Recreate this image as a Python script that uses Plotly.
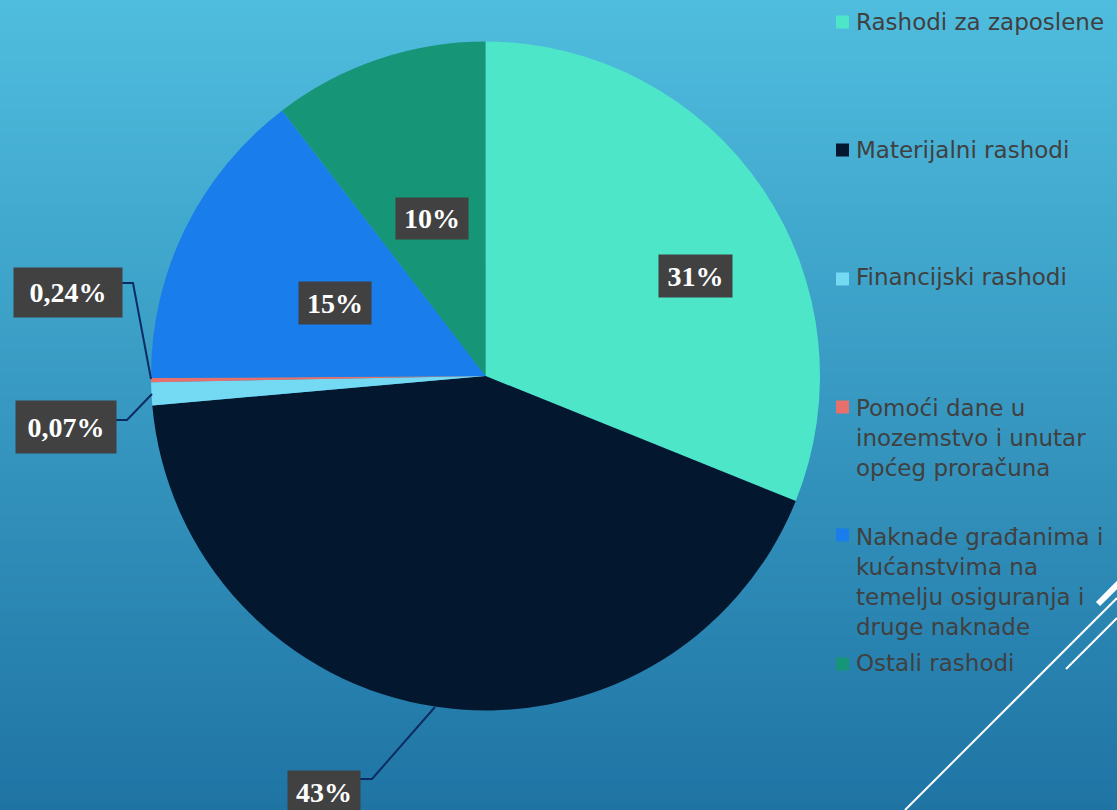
import plotly.graph_objects as go

# ---- data ----
categories = ["Rashodi za zaposlene", "Materijalni rashodi", "Financijski rashodi",
              "Pomoći dane u inozemstvo i unutar općeg proračuna",
              "Naknade građanima i kućanstvima na temelju osiguranja i druge naknade",
              "Ostali rashodi"]
legend_lines = [["Rashodi za zaposlene"], ["Materijalni rashodi"], ["Financijski rashodi"],
                ["Pomoći dane u", "inozemstvo i unutar", "općeg proračuna"],
                ["Naknade građanima i", "kućanstvima na", "temelju osiguranja i", "druge naknade"],
                ["Ostali rashodi"]]
values = [31.1, 42.5, 1.1, 0.2, 14.7, 10.4]
data_labels = ["31%", "43%", "0,07%", "0,24%", "15%", "10%"]
colors = ["#4DE6C8", "#03172F", "#74D9F3", "#E8706C", "#197DEC", "#179577"]

W, H = 1117, 810
def px(x): return x / W
def py(y): return 1 - y / H

fig = go.Figure()
fig.add_trace(go.Pie(
    labels=categories, values=values, sort=False, direction="clockwise", rotation=0,
    marker=dict(colors=colors, line=dict(width=0)),
    textinfo="none", hoverinfo="label+percent", showlegend=False,
    domain=dict(x=[px(485.5 - 334.5), px(485.5 + 334.5)], y=[py(710.5), py(41.5)]),
))

shapes = []
# background gradient
top = (79, 189, 222)
bot = (31, 116, 164)
N = 135
for i in range(N):
    t = i / (N - 1)
    c = tuple(round(top[k] + (bot[k] - top[k]) * t) for k in range(3))
    shapes.append(dict(type="rect", xref="paper", yref="paper", x0=0, x1=1,
                       y0=1 - i / N, y1=1 - (i + 1) / N - 0.002, layer="below",
                       line=dict(width=0), fillcolor="rgb(%d,%d,%d)" % c))

# leader lines
lc = "#0B2C62"
for pts in [[(121, 283), (133, 283), (151, 379)],
            [(115, 420), (127, 420), (152, 394)],
            [(359, 779), (372, 779), (435, 707)]]:
    path = "M " + " L ".join("%f,%f" % (px(a), py(b)) for a, b in pts)
    shapes.append(dict(type="path", xref="paper", yref="paper", path=path,
                       line=dict(color=lc, width=2)))

# decorative lines
shapes.append(dict(type="line", xref="paper", yref="paper", x0=px(905), y0=py(810),
                   x1=px(1117), y1=py(598), line=dict(color="white", width=2)))
shapes.append(dict(type="line", xref="paper", yref="paper", x0=px(1066), y0=py(669),
                   x1=px(1117), y1=py(618), line=dict(color="white", width=2)))
shapes.append(dict(type="line", xref="paper", yref="paper", x0=px(1098), y0=py(604),
                   x1=px(1120), y1=py(582), line=dict(color="white", width=6)))

# legend squares
sq_y = [22, 150, 279, 407, 535, 664]
for c, y in zip(colors, sq_y):
    shapes.append(dict(type="rect", xref="paper", yref="paper", x0=px(836), x1=px(849),
                       y0=py(y + 6.5), y1=py(y - 6.5), fillcolor=c, line=dict(width=0)))

annotations = []
# data labels
label_pos = [(695.5, 276, 71, 40), (324, 792, 70, 40), (66, 427, 98, 50),
             (68, 292.5, 106, 47), (335, 303, 70, 40), (432, 218, 70, 39)]
for txt, (x, y, w, h) in zip(data_labels, label_pos):
    annotations.append(dict(xref="paper", yref="paper", x=px(x), y=py(y), text="<b>%s</b>" % txt,
                            showarrow=False, xanchor="center", yanchor="middle",
                            width=w, height=h, bgcolor="#414141",
                            font=dict(family="Liberation Serif", size=28, color="white")))

# legend text (multi-line blocks)
fs = 23
line_h = 1.3 * fs
for lines, y in zip(legend_lines, [22, 150, 277, 408, 537, 663]):
    yc = y + (len(lines) - 1) * line_h / 2
    annotations.append(dict(xref="paper", yref="paper", x=px(854), y=py(yc),
                            text="<br>".join(lines), showarrow=False, align="left",
                            xanchor="left", yanchor="middle",
                            font=dict(family="DejaVu Sans", size=fs, color="#404040")))

fig.update_layout(width=W, height=H, margin=dict(l=0, r=0, t=0, b=0),
                  paper_bgcolor="#3A9DC9", shapes=shapes, annotations=annotations,
                  showlegend=False)
fig.write_html("out.html", config={"displayModeBar": False},
               post_script="document.body.style.margin='0';")
